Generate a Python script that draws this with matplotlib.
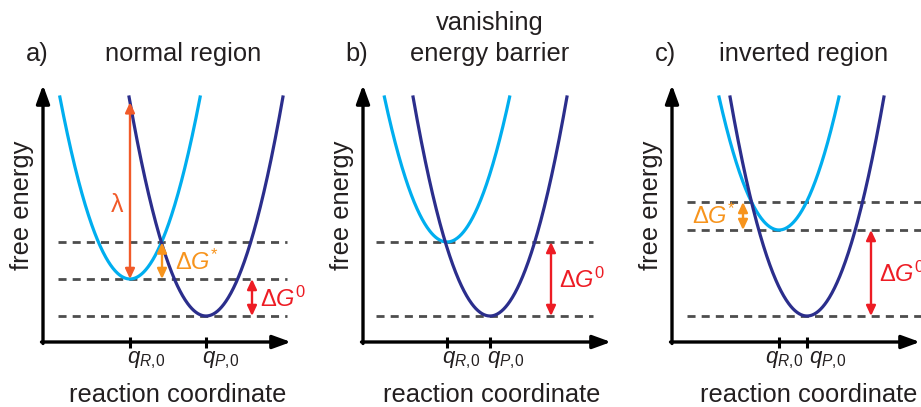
import numpy as np
import matplotlib
matplotlib.use('Agg')
import matplotlib.pyplot as plt

plt.rcParams['font.family'] = ['Liberation Sans', 'DejaVu Sans']
plt.rcParams['mathtext.fontset'] = 'custom'
plt.rcParams['mathtext.rm'] = 'Liberation Sans'
plt.rcParams['mathtext.it'] = 'Liberation Sans:italic'
plt.rcParams['mathtext.bf'] = 'Liberation Sans:bold'
plt.rcParams['mathtext.sf'] = 'Liberation Sans'

# panel data (energy vs reaction coordinate, arbitrary units)
panel_tags = ['a)', 'b)', 'c)']
titles = [['normal region'], ['vanishing', 'energy barrier'], ['inverted region']]
q_R = [8.7, 8.4, 10.7]      # minimum of reactant parabola
q_P = [16.3, 12.7, 13.5]    # minimum of product parabola
G_R = [6.3, 10.0, 11.2]     # reactant minimum energy
G_P = [2.6, 2.6, 2.6]       # product minimum energy
k = 0.37                    # parabola curvature
E_top = 24.5                # curves drawn up to this energy

light = '#00AEEF'
dark = '#2B2E8C'
c_lam = '#F15A29'
c_act = '#F7941D'
c_dg0 = '#ED1C24'
c_txt = '#231F20'

# layout (pixels) of each panel's origin
W, H = 921, 407
origins = [(43, 342), (363, 342), (672, 342)]
title_x = [14.0, 12.7, 13.2]
label_x = [13.5, 12.9, 13.7]
dash_range = [(1.5, 24.4), (1.3, 23.0), (1.5, 26.0)]
qR_off = [-0.3, -0.5, -1.4]
qP_off = [-0.4, -0.3, 0.2]
act_x = [11.9, None, 7.1]
dg0_x = [20.9, 18.8, 19.9]

fig = plt.figure(figsize=(W / 100, H / 100), dpi=100)


def arrow(ax, x0, y0, x1, y1, color, style, lw, ms):
    ax.annotate('', xy=(x1, y1), xytext=(x0, y0),
                arrowprops=dict(arrowstyle=style, color=color, lw=lw,
                                shrinkA=0, shrinkB=0, mutation_scale=ms),
                annotation_clip=False)


for i in range(3):
    ox, oy = origins[i]
    ax = fig.add_axes([(ox - 40) / W, (H - (oy + 65)) / H, 300 / W, 345 / H])
    ax.set_xlim(-4, 26)
    ax.set_ylim(-6.5, 28)
    ax.axis('off')

    qr, qp, gr, gp = q_R[i], q_P[i], G_R[i], G_P[i]

    # crossing point of the two parabolas
    xc = (gr - gp + k * (qr ** 2 - qp ** 2)) / (2 * k * (qr - qp))
    Ec = gr + k * (xc - qr) ** 2

    # dashed energy levels
    levels = [gr, gp]
    if abs(Ec - gr) > 0.5:
        levels = [Ec] + levels
    for lev in levels:
        ax.plot(dash_range[i], [lev, lev], color='#4D4D4D', lw=2,
                linestyle=(0, (2.9, 2.2)), solid_capstyle='butt', zorder=1)

    # parabolas
    hw = np.sqrt((E_top - gr) / k)
    x = np.linspace(qr - hw, qr + hw, 300)
    ax.plot(x, gr + k * (x - qr) ** 2, color=light, lw=2.3, zorder=3)
    hw = np.sqrt((E_top - gp) / k)
    x = np.linspace(qp - hw, qp + hw, 300)
    ax.plot(x, gp + k * (x - qp) ** 2, color=dark, lw=2.3, zorder=3)

    # axes with arrows
    arrow(ax, 0, -0.15, 0, 25.7, 'k', '-|>,head_length=1.1,head_width=0.4', 2.4, 10)
    arrow(ax, -0.15, 0, 24.8, 0, 'k', '-|>,head_length=1.1,head_width=0.4', 2.4, 10)
    for q in (qr, qp):
        ax.plot([q, q], [-0.55, 0.55], color='k', lw=2.2, solid_capstyle='butt')
    ax.text(qr + qR_off[i], -2.1, r'$q_{\mathit{R,\!0}}$', fontsize=16,
            ha='left', va='baseline', color=c_txt)
    ax.text(qp + qP_off[i], -2.1, r'$q_{\mathit{P,\!0}}$', fontsize=16,
            ha='left', va='baseline', color=c_txt)

    ax.text(label_x[i], -5.3, 'reaction coordinate', fontsize=18.4,
            ha='center', va='center', color=c_txt)
    ax.text(-2.1, 13.7, 'free energy', fontsize=18.4, rotation=90,
            ha='center', va='center', color=c_txt)

    # titles
    ax.text(-0.6, 28.1, panel_tags[i], fontsize=18.4, ha='center', va='baseline',
            color=c_txt, clip_on=False)
    lines = titles[i]
    for j, line in enumerate(lines):
        ax.text(title_x[i], 28.1 + 3.1 * (len(lines) - 1 - j), line, fontsize=18.4,
                ha='center', va='baseline', color=c_txt, clip_on=False)

    # energy arrows
    small = '<|-|>,head_length=0.6,head_width=0.28'
    if i == 0:
        top = gp + k * (qr - qp) ** 2
        arrow(ax, qr, gr, qr, top, c_lam, small, 1.7, 10)
        ax.text(qr - 1.3, 13.7, 'λ', fontsize=18, color=c_lam, ha='center', va='center')
    if act_x[i] is not None:
        arrow(ax, act_x[i], gr, act_x[i], Ec, c_act, small, 1.7, 10)
        if i == 0:
            ax.text(13.2, 7.2, r'$\Delta G^{*}$', fontsize=17, color=c_act,
                    ha='left', va='baseline')
        else:
            ax.text(6.4, 11.8, r'$\Delta G^{*}$', fontsize=17, color=c_act,
                    ha='right', va='baseline')
    arrow(ax, dg0_x[i], gp, dg0_x[i], gr, c_dg0, small, 1.7, 10)
    ax.text(dg0_x[i] + 0.8, (gr + gp) / 2 - 0.9, r'$\Delta G^{\mathit{0}}$', fontsize=17,
            color=c_dg0, ha='left', va='baseline', clip_on=False)

fig.savefig('out.png', dpi=100)
